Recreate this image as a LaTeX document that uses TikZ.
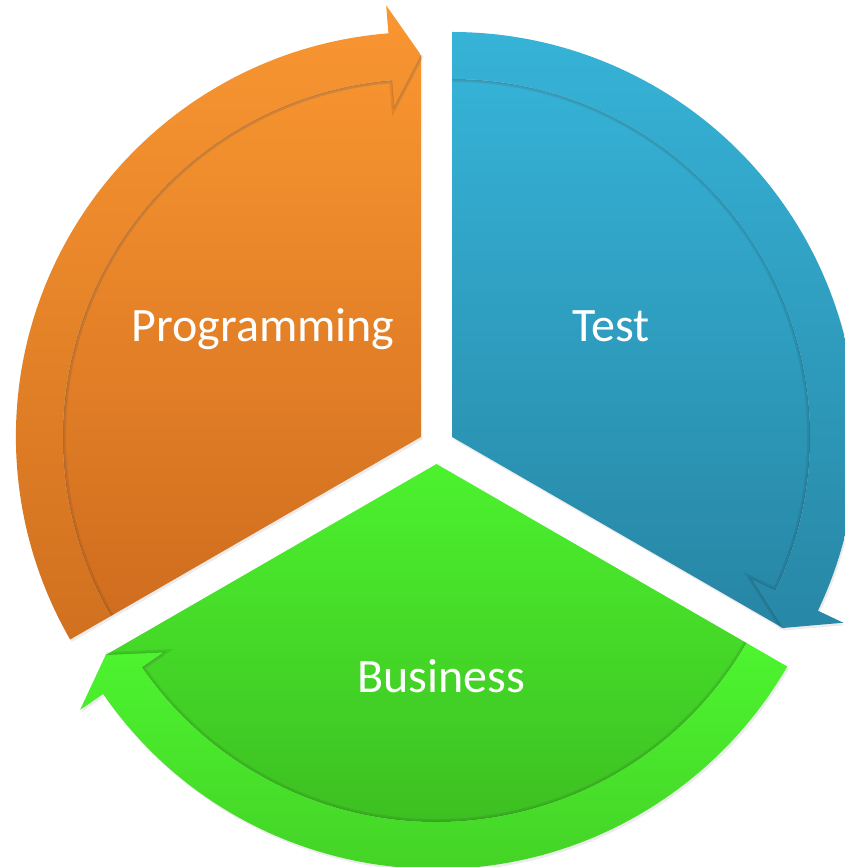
\documentclass[tikz,border=0pt]{standalone}
\usepackage{fontspec}
\setmainfont{Carlito}
\usetikzlibrary{calc,shadows}
\definecolor{progtop}{HTML}{F89530}
\definecolor{progbot}{HTML}{D06D1F}
\definecolor{progbandtop}{HTML}{F99632}
\definecolor{progbandbot}{HTML}{D1701F}
\definecolor{testtop}{HTML}{35B2D6}
\definecolor{testbot}{HTML}{2785A4}
\definecolor{testbandtop}{HTML}{36B3D7}
\definecolor{testbandbot}{HTML}{2887A6}
\definecolor{bustop}{HTML}{4CF22E}
\definecolor{busbot}{HTML}{3BB820}
\definecolor{busbandtop}{HTML}{4DF52F}
\definecolor{busbandbot}{HTML}{42CB25}

\begin{document}
\begin{tikzpicture}[x=1pt,y=1pt,
    segshadow/.style={drop shadow={opacity=0.15,shadow xshift=1.5pt,shadow yshift=-2.5pt}},
    bandshadow/.style={black,opacity=0.08,line width=6pt},
    seglabel/.style={text=white,anchor=base,font=\fontsize{48}{57}\selectfont}]
    \useasboundingbox (0,0) rectangle (844,867);
    % segments: name/corner/start angle/end angle (clockwise)
    \foreach \seg/\cx/\cy/\a/\b in {prog/420.9/430/210/90,test/452.1/430/90/-30,bus/436.5/403/330/210}
      {\pgfmathsetmacro{\bb}{\b+4.6}
       \coordinate (\seg c) at (\cx,\cy);
       % inner sector
       \path[segshadow,top color=\seg top,bottom color=\seg bot]
         (\seg c) -- ($(\seg c)+(\a:358)$) arc[start angle=\a,end angle=\bb,radius=358]
         -- ($(\seg c)+(\b:382)$) -- cycle;
       % shadow under the band
       \draw[bandshadow] ($(\seg c)+(\a:358)$) arc[start angle=\a,end angle=\bb,radius=358]
         -- ($(\seg c)+(\bb:332)$) -- ($(\seg c)+(\b:382)$);
       \draw[bandshadow,line width=2pt] ($(\seg c)+(\a:358)$) arc[start angle=\a,end angle=\bb,radius=358]
         -- ($(\seg c)+(\bb:332)$) -- ($(\seg c)+(\b:382)$);
       % arrow band
       \path[segshadow,top color=\seg bandtop,bottom color=\seg bandbot]
         ($(\seg c)+(\a:358)$) arc[start angle=\a,end angle=\bb,radius=358]
         -- ($(\seg c)+(\bb:332)$) -- ($(\seg c)+(\b:382)$) -- ($(\seg c)+(\bb:433)$)
         -- ($(\seg c)+(\bb:405)$) arc[start angle=\bb,end angle=\a,radius=405] -- cycle;}
    % labels
    \node[seglabel] (prog) at (263,525) {Programming};
    \node[seglabel] (test) at (611,525) {Test};
    \node[seglabel] (bus) at (441,174) {Business};
  \end{tikzpicture}
\end{document}
